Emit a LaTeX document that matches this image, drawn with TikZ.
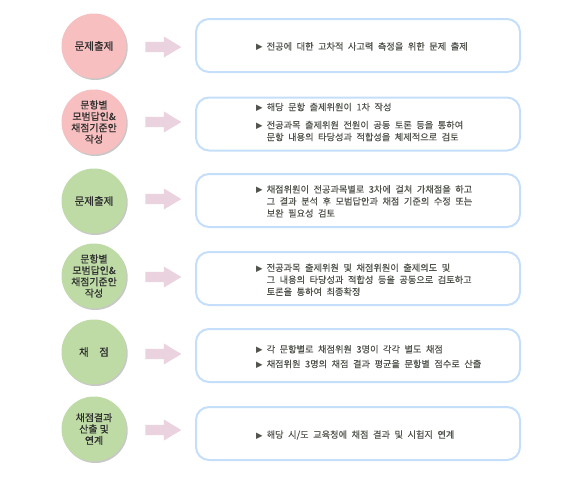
\documentclass[tikz,border=0pt]{standalone}
\usepackage{fontspec}
\usetikzlibrary{shapes.arrows,shadows}
\newfontfamily\kr[WordSpace=2.2,FakeBold=0.4]{Noto Sans CJK KR}
\newfontfamily\krc[FakeBold=0.6]{Noto Sans CJK KR}
\newfontfamily\symf{DejaVu Sans}
\definecolor{pinkc}{HTML}{F8BFC0}
\definecolor{greenc}{HTML}{BEDBA6}
\definecolor{arrowc}{HTML}{EAD2DE}
\definecolor{boxc}{HTML}{C5DEFA}
\definecolor{txtc}{HTML}{4F534B}
\definecolor{ctxt}{HTML}{2E2E2E}
\newcommand\bul{\makebox[10.5pt][l]{\symf\fontsize{8.5}{8.5}\selectfont ▶}}
\newcommand\ind{\makebox[10.5pt]{}}
\tikzset{
  circ/.style={circle, minimum size=65pt, inner sep=0pt, align=center, text=ctxt,
    font=\krc\fontsize{9.9}{11.4}\selectfont,
    drop shadow={shadow xshift=1.2pt, shadow yshift=-1.5pt, fill=black, opacity=0.22}},
  circone/.style={circ, font=\krc\fontsize{10.5}{11.4}\selectfont},
  barrow/.style={single arrow, fill=arrowc, minimum height=36pt, inner sep=5pt,
    single arrow head extend=5.3pt, single arrow tip angle=62, draw=none},
  boxn/.style={draw=boxc, line width=2pt, rounded corners=13pt, minimum width=324pt,
    minimum height=53pt, inner sep=0pt},
  txt/.style={anchor=west, align=left, inner sep=0pt, text=txtc,
    font=\kr\fontsize{9.2}{12}\selectfont}
}
\begin{document}
\begin{tikzpicture}[x=1pt,y=-1pt]
\useasboundingbox (0,0) rectangle (586,488);
% circles
\node[circone, fill=pinkc] (c1) at (94,46) {문제출제};
\node[circ, fill=pinkc] (c2) at (94,122) {문항별\\모범답인\&\\채점기준안\\작성};
\node[circone, fill=greenc] (c3) at (94,201) {문제출제};
\node[circ, fill=greenc] (c4) at (94,276) {문항별\\모범답인\&\\채점기준안\\작성};
\node[circone, fill=greenc] (c5) at (94,352) {채\quad 점};
\node[circ, fill=greenc] (c6) at (94,429) {채점결과\\산출 및\\연계};
% arrows
\node[barrow] (a1) at (159,47) {};
\node[barrow] (a2) at (159,122) {};
\node[barrow] (a3) at (159,199) {};
\node[barrow] (a4) at (159,277) {};
\node[barrow] (a5) at (159,354) {};
\node[barrow] (a6) at (159,430) {};
% boxes
\node[boxn] (b1) at (358,45.5) {};
\node[boxn] (b2) at (358,124) {};
\node[boxn] (b3) at (358,200.5) {};
\node[boxn] (b4) at (358,278.5) {};
\node[boxn] (b5) at (358,355.5) {};
\node[boxn] (b6) at (358,433.5) {};
% texts
\node[txt] (t1) at (256,46.5) {\bul 전공에 대한 고차적 사고력 측정을 위한 문제 출제};
\node[txt] (t2) at (256,122) {\bul 해당 문항 출제위원이 1차 작성\\[6pt]
  \bul 전공과목 출제위원 전원이 공동 토론 등을 통하여\\
  \ind 문항 내용의 타당성과 적합성을 체제적으로 검토};
\node[txt] (t3) at (256,201.3) {\bul 채점위원이 전공과목별로 3차에 걸쳐 가채점을 하고\\
  \ind 그 결과 분석 후 모범답안과 채점 기준의 수정 또는\\
  \ind 보완 필요성 검토};
\node[txt] (t4) at (256,279.7) {\bul 전공과목 출제위원 및 채점위원이 출제의도 및\\
  \ind 그 내용의 타당성과 적합성 등을 공동으로 검토하고\\
  \ind 토론을 통하여 최종확정};
\node[txt] (t5) at (256,356.7) {\bul 각 문항별로 채점위원 3명이 각각 별도 채점\\[2.7pt]
  \bul 채점위원 3명의 채점 결과 평균을 문항별 점수로 산출};
\node[txt] (t6) at (256,435) {\bul 해당 시/도 교육청에 채점 결과 및 시험지 연계};
\end{tikzpicture}
\end{document}
